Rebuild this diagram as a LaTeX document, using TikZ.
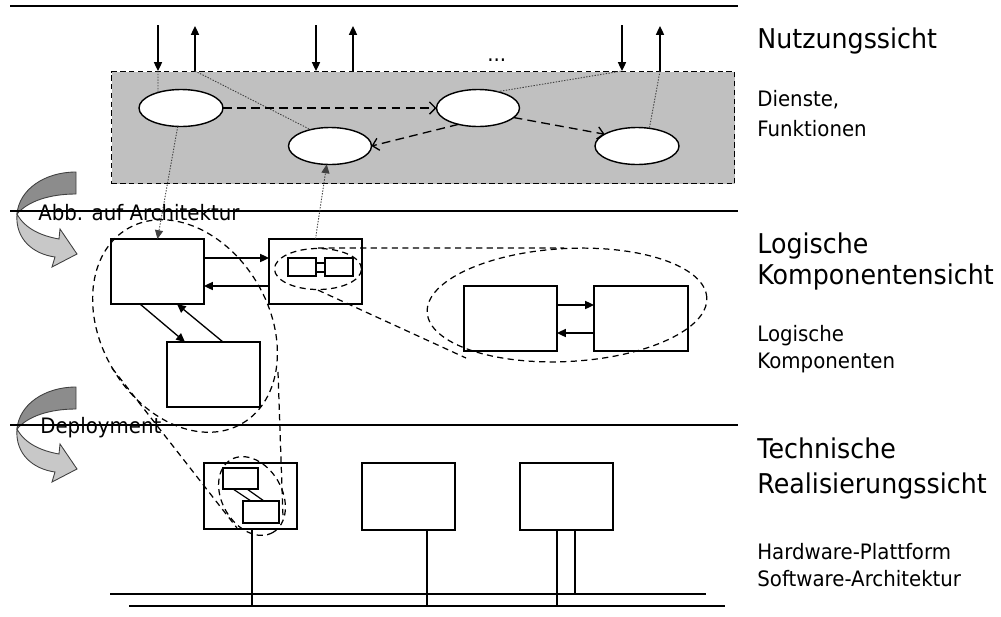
\documentclass[tikz,border=0pt]{standalone}
\usepackage{fontspec}
\setmainfont{DejaVu Sans}[FakeStretch=0.93]
\usetikzlibrary{arrows.meta,shapes.geometric}
\definecolor{panel}{RGB}{192,192,192}
\definecolor{foldback}{RGB}{140,140,140}
\definecolor{foldfront}{RGB}{200,200,200}
\newcommand{\pxu}{0.02cm}

\begin{document}
\begin{tikzpicture}[x=0.02cm,y=-0.02cm,
  rule/.style={line width=0.75pt},
  blk/.style={draw, line width=0.8pt, fill=white, rectangle, inner sep=0pt, outer sep=0pt, anchor=north west},
  svc/.style={draw, line width=0.8pt, fill=white, ellipse, inner sep=0pt, outer sep=0pt,
              minimum width=84*\pxu, minimum height=37*\pxu},
  flow/.style={line width=0.75pt, -{Triangle[length=5pt,width=4.6pt]}},
  call/.style={line width=0.75pt, dash pattern=on 5pt off 3pt, -{Straight Barb[length=3.5pt,width=7pt]}},
  trace/.style={line width=0.5pt, dash pattern=on 0.8pt off 0.8pt, black!75},
  zoomline/.style={line width=0.7pt, dash pattern=on 3.5pt off 2.5pt},
  bigtxt/.style={anchor=base west, inner sep=0pt, font=\fontsize{15.5}{18}\selectfont},
  smalltxt/.style={anchor=base west, inner sep=0pt, font=\fontsize{12.1}{14}\selectfont},
  foldarrow/.pic={
    \filldraw[fill=foldback, draw=black!75, line width=0.5pt]
      (76,172) .. controls (44,172) and (19,190) .. (17,214)
      .. controls (28,201) and (50,194) .. (76,194) -- cycle;
    \filldraw[fill=foldfront, draw=black!75, line width=0.5pt]
      (17,214) .. controls (25,229) and (42,236) .. (59,239)
      -- (60,229) -- (77,254) -- (52,267) -- (55,257)
      .. controls (33,254) and (15,239) .. (17,214) -- cycle;
  },
]
\useasboundingbox (0,0) rectangle (1001,616);

% turn-over arrows between the views
\pic at (0,0) {foldarrow};
\pic at (0,215) {foldarrow};

% separators between the three views
\draw[rule] (10,6) -- (738,6);
\draw[rule] (10,211) -- (738,211);
\draw[rule] (10,425) -- (738,425);

% ---------- usage view ----------
\node[draw, fill=panel, line width=0.7pt, dash pattern=on 3pt off 2pt, anchor=north west,
      inner sep=0pt, minimum width=623*\pxu, minimum height=112*\pxu] (usage) at (111,71) {};

\node[svc] (E1) at (181,108) {};
\node[svc, minimum width=83*\pxu] (E2) at (330,146) {};
\node[svc, minimum width=83*\pxu] (E3) at (478,108) {};
\node[svc] (E4) at (637,146) {};

\coordinate (in1) at (158,25);  \coordinate (out1) at (195,26);
\coordinate (in2) at (316,25);  \coordinate (out2) at (353,26);
\coordinate (in3) at (622,25);  \coordinate (out3) at (660,26);

\draw[flow] (in1) -- (in1 |- usage.north);
\draw[flow] (out1 |- usage.north) -- (out1);
\draw[flow] (in2) -- (in2 |- usage.north);
\draw[flow] (out2 |- usage.north) -- (out2);
\draw[flow] (in3) -- (in3 |- usage.north);
\draw[flow] (out3 |- usage.north) -- (out3);

\node[smalltxt] (more) at (487,61) {...};

\draw[trace] (in1 |- usage.north) -- (E1.146);
\draw[trace] (out1 |- usage.north) -- (E2.140);
\draw[trace] (E3.40) -- (in3 |- usage.north);
\draw[trace] (out3 |- usage.north) -- (E4.55);

\draw[call] (E1.east) -- (E3.west);
\draw[call] (E3.-140) -- (E2.east);
\draw[call] (E3.-15) -- (E4.160);

% ---------- logical component view ----------
\node[blk, minimum width=93*\pxu, minimum height=65*\pxu] (L1) at (111,239) {};
\node[blk, minimum width=93*\pxu, minimum height=65*\pxu] (L2) at (269,239) {};
\node[blk, minimum width=93*\pxu, minimum height=65*\pxu] (L3) at (167,342) {};
\node[blk, minimum width=28*\pxu, minimum height=18*\pxu] (L2a) at (288,258) {};
\node[blk, minimum width=28*\pxu, minimum height=18*\pxu] (L2b) at (325,258) {};
\node[blk, minimum width=93*\pxu, minimum height=65*\pxu] (R1) at (464,286) {};
\node[blk, minimum width=94*\pxu, minimum height=65*\pxu] (R2) at (594,286) {};

\draw[line width=0.7pt] ([yshift=-0.1cm]L2a.north east) -- ([yshift=-0.1cm]L2b.north west);
\draw[line width=0.7pt] ([yshift=0.08cm]L2a.south east) -- ([yshift=0.08cm]L2b.south west);

\draw[flow] ([yshift=-0.38cm]L1.north east) -- ([yshift=-0.38cm]L2.north west);
\draw[flow] ([yshift=0.36cm]L2.south west) -- ([yshift=0.36cm]L1.south east);
\draw[flow] ([xshift=0.58cm]L1.south west) -- ([xshift=0.36cm]L3.north west);
\draw[flow] ([xshift=1.12cm]L3.north west) -- ([xshift=1.32cm]L1.south west);
\draw[flow] ([yshift=-0.38cm]R1.north east) -- ([yshift=-0.38cm]R2.north west);
\draw[flow] ([yshift=0.36cm]R2.south west) -- ([yshift=0.36cm]R1.south east);

\draw[trace, -{Triangle[length=5pt,width=4.6pt]}] (E1.-100) -- (L1.north);
\draw[trace, -{Triangle[length=5pt,width=4.6pt]}] (L2.north) -- (E2.-100);

% magnified view of the coupled components
\node[draw, zoomline, ellipse, inner sep=0pt, minimum width=87*\pxu, minimum height=41*\pxu] (lz) at (318,269) {};
\node[draw, zoomline, ellipse, inner sep=0pt, minimum width=280*\pxu, minimum height=113*\pxu, rotate=3] (rz) at (567,305) {};
\coordinate (zb) at (466,358);
\draw[zoomline] (lz.north) -- (rz.north);
\draw[zoomline] (lz.south) -- (zb);

% group of components mapped onto one platform
\node[draw, zoomline, ellipse, inner sep=0pt, minimum width=226*\pxu, minimum height=168*\pxu, rotate=-59.4] (lg) at (185,326) {};

% ---------- technical realisation view ----------
\node[blk, minimum width=93*\pxu, minimum height=66*\pxu] (T1) at (204,463) {};
\node[blk, minimum width=93*\pxu, minimum height=67*\pxu] (T2) at (362,463) {};
\node[blk, minimum width=93*\pxu, minimum height=67*\pxu] (T3) at (520,463) {};
\node[blk, minimum width=35*\pxu, minimum height=21*\pxu] (T1a) at (223,468) {};
\node[blk, minimum width=36*\pxu, minimum height=22*\pxu] (T1b) at (243,501) {};
\draw[line width=0.7pt] ([xshift=0.2cm]T1a.south west) -- ([xshift=0.16cm]T1b.north west);
\draw[line width=0.7pt] ([xshift=0.48cm]T1a.south west) -- ([xshift=0.42cm]T1b.north west);

\node[draw, zoomline, ellipse, inner sep=0pt, minimum width=84*\pxu, minimum height=60*\pxu, rotate=-60] (tz) at (252,496) {};
\coordinate (la) at (112,368);
\coordinate (ta) at (237,528);
\coordinate (lb) at (278,372);
\coordinate (tb) at (283,517);
\draw[zoomline] (la) -- (ta);
\draw[zoomline] (lb) -- (tb);

% network buses
\coordinate (busAw) at (110,594); \coordinate (busAe) at (706,594);
\coordinate (busBw) at (129,606); \coordinate (busBe) at (725,606);
\draw[line width=0.75pt] (busAw) -- (busAe);
\draw[line width=0.75pt] (busBw) -- (busBe);
\draw[line width=0.7pt] ([xshift=0.03cm]T1.south) -- ([xshift=0.03cm]T1.south |- busBw);
\draw[line width=0.7pt] ([xshift=0.37cm]T2.south) -- ([xshift=0.37cm]T2.south |- busBw);
\draw[line width=0.7pt] ([xshift=-0.19cm]T3.south) -- ([xshift=-0.19cm]T3.south |- busBw);
\draw[line width=0.7pt] ([xshift=0.17cm]T3.south) -- ([xshift=0.17cm]T3.south |- busAw);

% ---------- labels ----------
\node[smalltxt] (map) at (38,220) {Abb. auf Architektur};
\node[smalltxt] (deploy) at (40,433) {Deployment};

\node[bigtxt] (v1) at (757,48) {Nutzungssicht};
\node[smalltxt] (v1a) at (757,106) {Dienste,};
\node[smalltxt] (v1b) at (757,136) {Funktionen};

\node[bigtxt] (v2) at (757,253) {Logische};
\node[bigtxt] (v2b) at (757,284) {Komponentensicht};
\node[smalltxt] (v2c) at (757,341) {Logische};
\node[smalltxt] (v2d) at (757,368) {Komponenten};

\node[bigtxt] (v3) at (757,458) {Technische};
\node[bigtxt] (v3b) at (757,493) {Realisierungssicht};
\node[smalltxt] (v3c) at (757,559) {Hardware-Plattform};
\node[smalltxt] (v3d) at (757,586) {Software-Architektur};
\end{tikzpicture}
\end{document}
